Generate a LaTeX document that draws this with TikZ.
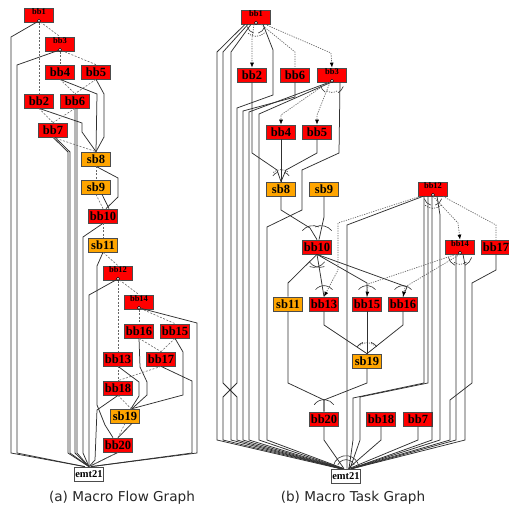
\documentclass[tikz,border=0pt]{standalone}
\usepackage{fontspec}
\setmainfont{Liberation Serif}
\newfontfamily\capfont{DejaVu Sans}
\usetikzlibrary{arrows.meta}
\definecolor{bbred}{HTML}{FF0000}
\definecolor{sborange}{HTML}{FFA500}
\definecolor{edgegray}{HTML}{303030}
\newcommand{\bbfont}{\fontsize{12.5}{12.5}\selectfont\bfseries}
\newcommand{\brfont}{\fontsize{8.5}{8.5}\selectfont\bfseries}
\tikzset{
  bbox/.style={draw=black!70, line width=0.7pt, fill=bbred, minimum width=29pt, minimum height=14pt, inner sep=0pt, font=\bbfont},
  sbox/.style={bbox, fill=sborange},
  ebox/.style={bbox, fill=white, font=\fontsize{10.5}{10.5}\selectfont\bfseries},
  brbox/.style={bbox, font=\brfont, text height=5pt, text depth=6pt},
  brdot/.style={circle, draw=black, fill=white, line width=0.5pt, inner sep=0pt, minimum size=3.2pt},
  flow/.style={draw=edgegray, line width=0.75pt},
  dep/.style={draw=black!60, line width=0.6pt, dash pattern=on 2pt off 1.5pt},
  cdep/.style={draw=black!60, line width=0.7pt, dash pattern=on 1.2pt off 1.2pt},
  cdarr/.style={cdep, -{Latex[length=5pt,width=4pt,color=black]}},
  andarc/.style={draw=edgegray, line width=0.6pt},
  orarc/.style={andarc, dash pattern=on 1.2pt off 1.2pt},
  captxt/.style={font=\capfont\fontsize{13.6}{13.6}\selectfont, text=black!85}
}
\begin{document}
\begin{tikzpicture}[x=1pt, y=-1pt]
\useasboundingbox (0,0) rectangle (508,510);
% (a) macro flow graph
\node[brbox] (a1) at (39,15) {bb1};
\node[brbox] (a3) at (60,44) {bb3};
\node[bbox] (a4) at (60,72) {bb4};
\node[bbox] (a5) at (96,72) {bb5};
\node[bbox] (a2) at (39,101) {bb2};
\node[bbox] (a6) at (75,101) {bb6};
\node[bbox] (a7) at (53,130) {bb7};
\node[sbox] (a8) at (96,159) {sb8};
\node[sbox] (a9) at (96,187) {sb9};
\node[bbox] (a10) at (103,216) {bb10};
\node[sbox] (a11) at (103,245) {sb11};
\node[brbox] (a12) at (118,273) {bb12};
\node[brbox] (a14) at (139,302) {bb14};
\node[bbox] (a16) at (139,331) {bb16};
\node[bbox] (a15) at (175,331) {bb15};
\node[bbox] (a13) at (118,359) {bb13};
\node[bbox] (a17) at (161,359) {bb17};
\node[bbox] (a18) at (118,388) {bb18};
\node[sbox] (a19) at (125,416) {sb19};
\node[bbox] (a20) at (118,445) {bb20};
\node[ebox] (a21) at (89,474) {emt21};
\node[brdot] (a1c) at ([yshift=1.5pt]a1.south) {};
\node[brdot] (a3c) at ([yshift=1.5pt]a3.south) {};
\node[brdot] (a12c) at ([yshift=1.5pt]a12.south) {};
\node[brdot] (a14c) at ([yshift=1.5pt]a14.south) {};
% control flow
\draw[flow] (a1c) -- (11,37) -- (11,453) -- ([xshift=-4pt]a21.north);
\draw[flow] (a3c) -- (17,65) -- (17,453) -- ([xshift=-4pt]a21.north);
\draw[flow] (a4.south) -- (97,94) -- (a8.north);
\draw[flow] (a5.south) -- (104,94) -- (104,137) -- (a8.north);
\draw[flow] (a2.south) -- (82,123) -- (82,132) -- (a8.north);
\draw[flow] (a6.south) -- (75,453) -- (a21.north);
\draw[flow] ([xshift=2pt]a6.south) -- (77,453) -- (a21.north);
\draw[flow] (a7.south) -- (68,152) -- (68,453) -- (a21.north);
\draw[flow] ([xshift=2pt]a7.south) -- (70,152) -- (70,453) -- (a21.north);
\draw[flow] (a8.south) -- (118,178) -- (118,197) -- ([xshift=3pt]a10.north);
\draw[flow] ([xshift=6pt]a9.south) -- ([xshift=6pt]a10.north);
\draw[flow] (a10.south) -- (83,237) -- (83,453) -- (a21.north);
\draw[flow] (a11.south) -- (97,266) -- (97,405) -- (105,425) -- ([xshift=-5pt]a20.north);
\draw[flow] (a12c) -- (89,295) -- (89,453) -- (a21.north);
\draw[flow] (a14c) -- (197,323) -- (197,453) -- ([xshift=2pt]a21.north);
\draw[flow] (a16.south) -- (140,367) -- (147,382) -- (147,395) -- ([xshift=7pt]a19.north);
\draw[flow] (a15.south) -- (183,352) -- (183,395) -- ([xshift=7pt]a19.north);
\draw[flow] (a13.south) -- (139,382) -- (139,396) -- ([xshift=6pt]a19.north);
\draw[flow] (a17.south) -- (192,381) -- (192,453) -- ([xshift=2pt]a21.north);
\draw[flow] (a18.south) -- (97,410) -- (95,460) -- (a21.north);
\draw[flow] ([xshift=7pt]a19.south) -- (a20.north);
\draw[flow] (a20.south) -- (a21.north);
% data dependence
\draw[dep] (a1c) -- (a2.north);
\draw[dep] (a1c) -- (a3.north);
\draw[dep] (a3c) -- (a4.north);
\draw[dep] (a3c) -- (a5.north);
\draw[dep] (a4.south) -- (a6.north);
\draw[dep] (a5.south) -- (a6.north);
\draw[dep] (a2.south) -- (a7.north);
\draw[dep] (a6.south) -- (a7.north);
\draw[dep] (a7.south) -- (a8.north);
\draw[dep] (a8.south) -- (a9.north);
\draw[dep] (a9.south) -- (a10.north);
\draw[dep] (a10.south) -- (a11.north);
\draw[dep] (a11.south) -- (a12.north);
\draw[dep] (a12c) -- (a13.north);
\draw[dep] (a12c) -- (a14.north);
\draw[dep] (a14c) -- (a16.north);
\draw[dep] (a14c) -- (a15.north);
\draw[dep] (a16.south) -- (a17.north);
\draw[dep] (a15.south) -- (a17.north);
\draw[dep] (a13.south) -- (a18.north);
\draw[dep] (a17.south) -- (a18.north);
\draw[dep] (a18.south) -- ([xshift=6pt]a19.north);
\draw[dep] (a19.south) -- (a20.north);
\draw[dep] (a20.south) -- (a21.north);
\node[captxt] (capa) at (122,498) {(a) Macro Flow Graph};
% (b) macro task graph
\node[brbox] (t1) at (256,17) {bb1};
\node[bbox] (t2) at (252,75) {bb2};
\node[bbox] (t6) at (295,75) {bb6};
\node[brbox] (t3) at (332,75) {bb3};
\node[bbox] (t4) at (281,132) {bb4};
\node[bbox] (t5) at (317,132) {bb5};
\node[sbox] (t8) at (281,189) {sb8};
\node[sbox] (t9) at (324,189) {sb9};
\node[bbox] (t10) at (317,247) {bb10};
\node[brbox] (t12) at (433,189) {bb12};
\node[brbox] (t14) at (460,247) {bb14};
\node[bbox] (t17) at (496,247) {bb17};
\node[sbox] (t11) at (288,304) {sb11};
\node[bbox] (t13) at (324,304) {bb13};
\node[bbox] (t15) at (367,304) {bb15};
\node[bbox] (t16) at (403,304) {bb16};
\node[sbox] (t19) at (367,361) {sb19};
\node[bbox] (t20) at (324,419) {bb20};
\node[bbox] (t18) at (381,419) {bb18};
\node[bbox] (t7) at (418,419) {bb7};
\node[ebox] (t21) at (346,476) {emt21};
\node[brdot] (t1c) at ([yshift=1.5pt]t1.south) {};
\node[brdot] (t3c) at ([yshift=1.5pt]t3.south) {};
\node[brdot] (t12c) at ([yshift=1.5pt]t12.south) {};
\node[brdot] (t14c) at ([yshift=1.5pt]t14.south) {};
% data dependence
\draw[flow] ([xshift=-11pt]t1.south) -- (217,52) -- (217,440) -- ([xshift=-6pt]t21.north);
\draw[flow] ([xshift=-8pt]t1.south) -- (223,52) -- (223,383) -- (237,397) -- (237,440) -- ([xshift=-5pt]t21.north);
\draw[flow] ([xshift=-5pt]t1.south) -- (231,52) -- (231,440) -- ([xshift=-5pt]t21.north);
\draw[flow] ([xshift=7pt]t1.south) -- (273,50) -- (273,95) -- (237,108) -- (237,383) -- (223,397) -- (223,440) -- ([xshift=-4pt]t21.north);
\draw[flow] (t6.south) -- (295,97) -- (243,111) -- (243,440) -- ([xshift=-4pt]t21.north);
\draw[flow] ([xshift=-3pt]t3.south) -- (249,112) -- (249,440) -- ([xshift=-3pt]t21.north);
\draw[flow] ([xshift=-1pt]t3.south) -- (259,114) -- (259,440) -- ([xshift=-3pt]t21.north);
\draw[flow] ([xshift=8pt]t3.south) -- (339,153) -- (302,170) -- (302,210) -- (267,227) -- (267,440) -- ([xshift=-2pt]t21.north);
\draw[flow] (t2.south) -- (252,153) -- (277,170) -- (t8.north);
\draw[flow] (t4.south) -- (t8.north);
\draw[flow] (t5.south) -- (317,153) -- (286,170) -- (t8.north);
\draw[flow] (t8.south) -- (281,210) -- (310,228) -- (t10.north);
\draw[flow] (t9.south) -- (324,217) -- ([xshift=2pt]t10.north);
\draw[flow] (t10.south) -- (288,283) -- (t11.north);
\draw[flow] (t11.south) -- (288,383) -- (324,400) -- (t20.north);
\draw[flow] (t10.south) -- (t13.north);
\draw[flow] (t10.south) -- (367,283) -- (t15.north);
\draw[flow] (t10.south) -- (407,287) -- (t16.north);
\draw[flow] (t13.south) -- (324,325) -- (t19.north);
\draw[flow] (t15.south) -- (t19.north);
\draw[flow] (t16.south) -- (403,325) -- (t19.north);
\draw[flow] (t19.south) -- (367,383) -- (324,400) -- (t20.north);
\draw[flow] (t20.south) -- (324,440) -- ([xshift=-2pt]t21.north);
\draw[flow] (t18.south) -- (381,440) -- ([xshift=2pt]t21.north);
\draw[flow] (t7.south) -- (418,440) -- ([xshift=3pt]t21.north);
\draw[flow] ([xshift=-10pt]t12.south) -- (347,225) -- ([xshift=1pt]t21.north);
\draw[flow] ([xshift=-9pt]t12.south) -- (424,383) -- (353,398) -- (353,440) -- ([xshift=3pt]t21.north);
\draw[flow] ([xshift=-5pt]t12.south) -- (428,383) -- (360,397) -- (360,440) -- ([xshift=4pt]t21.north);
\draw[flow] ([xshift=-1pt]t12.south) -- (432,440) -- ([xshift=5pt]t21.north);
\draw[flow] ([xshift=4pt]t12.south) -- (440,215) -- (440,440) -- ([xshift=5pt]t21.north);
\draw[flow] ([xshift=-4pt]t14.south) -- (456,440) -- ([xshift=6pt]t21.north);
\draw[flow] ([xshift=3pt]t14.south) -- (465,265) -- (465,440) -- ([xshift=6pt]t21.north);
\draw[flow] (t17.south) -- (496,270) -- (472,283) -- (472,383) -- (450,400) -- (450,440) -- ([xshift=5pt]t21.north);
% control dependence
\draw[cdarr] ([xshift=-2pt]t1.south) -- (252,38) -- (t2.north);
\draw[cdep] ([xshift=5pt]t1.south) -- (295,52) -- (t6.north);
\draw[cdarr] ([xshift=9pt]t1.south) -- (331,53) -- (t3.north);
\draw[cdarr] ([xshift=-4pt]t3.south) -- (281,115) -- (t4.north);
\draw[cdarr] ([xshift=-2pt]t3.south) -- (317,115) -- (t5.north);
\draw[cdarr] (t12.south) -- (458,223) -- (t14.north);
\draw[cdep] ([xshift=10pt]t12.south) -- (496,225) -- (t17.north);
\draw[cdarr] ([xshift=-13pt]t12.south) -- (338,223) -- (338,270) -- (t13.north);
\draw[cdarr] ([xshift=-4pt]t14.south) -- (368,284) -- (t15.north);
\draw[cdarr] (t14.south) -- (405,287) -- (t16.north);
% and / or arcs
\draw[orarc] (t1.south) ++(45:12) arc[start angle=45, end angle=135, radius=12];
\draw[andarc] (t1.south) ++(105:9) arc[start angle=105, end angle=165, radius=9];
\draw[andarc] (t1.south) ++(15:9) arc[start angle=15, end angle=75, radius=9];
\draw[orarc] (t3.south) ++(60:10) arc[start angle=60, end angle=125, radius=10];
\draw[andarc] (t3.south) ++(125:12) arc[start angle=125, end angle=165, radius=12];
\draw[andarc] (t3.south) ++(20:12) arc[start angle=20, end angle=60, radius=12];
\draw[orarc] (t8.north) ++(230:12) arc[start angle=230, end angle=310, radius=12];
\draw[andarc] (t8.north) ++(215:10) arc[start angle=215, end angle=250, radius=10];
\draw[andarc] (t8.north) ++(290:10) arc[start angle=290, end angle=325, radius=10];
\draw[andarc] ([xshift=-4pt]t10.north) ++(220:14) arc[start angle=220, end angle=295, radius=14];
\draw[andarc] ([xshift=4pt]t10.north) ++(245:14) arc[start angle=245, end angle=320, radius=14];
\draw[andarc] ([xshift=-3pt]t10.south) ++(35:13) arc[start angle=35, end angle=110, radius=13];
\draw[andarc] ([xshift=3pt]t10.south) ++(70:13) arc[start angle=70, end angle=145, radius=13];
\draw[andarc] (t13.north) ++(220:11) arc[start angle=220, end angle=320, radius=11];
\draw[andarc] (t15.north) ++(220:11) arc[start angle=220, end angle=320, radius=11];
\draw[andarc] (t16.north) ++(220:11) arc[start angle=220, end angle=320, radius=11];
\draw[orarc] (t19.north) ++(230:11) arc[start angle=230, end angle=310, radius=11];
\draw[andarc] (t19.north) ++(215:12) arc[start angle=215, end angle=250, radius=12];
\draw[andarc] (t19.north) ++(290:12) arc[start angle=290, end angle=325, radius=12];
\draw[andarc] (t20.north) ++(215:12) arc[start angle=215, end angle=325, radius=12];
\draw[orarc] (t12.south) ++(45:12) arc[start angle=45, end angle=135, radius=12];
\draw[andarc] (t12.south) ++(105:9) arc[start angle=105, end angle=165, radius=9];
\draw[andarc] (t12.south) ++(15:9) arc[start angle=15, end angle=75, radius=9];
\draw[orarc] (t14.south) ++(50:10) arc[start angle=50, end angle=130, radius=10];
\draw[andarc] (t14.south) ++(115:12) arc[start angle=115, end angle=165, radius=12];
\draw[andarc] (t14.south) ++(15:12) arc[start angle=15, end angle=65, radius=12];
\draw[andarc] (t21.north) ++(190:13) arc[start angle=190, end angle=350, radius=13];
\draw[andarc] (t21.north) ++(205:9) arc[start angle=205, end angle=335, radius=9];
\node[captxt] (capb) at (353,498) {(b) Macro Task Graph};
\end{tikzpicture}
\end{document}
